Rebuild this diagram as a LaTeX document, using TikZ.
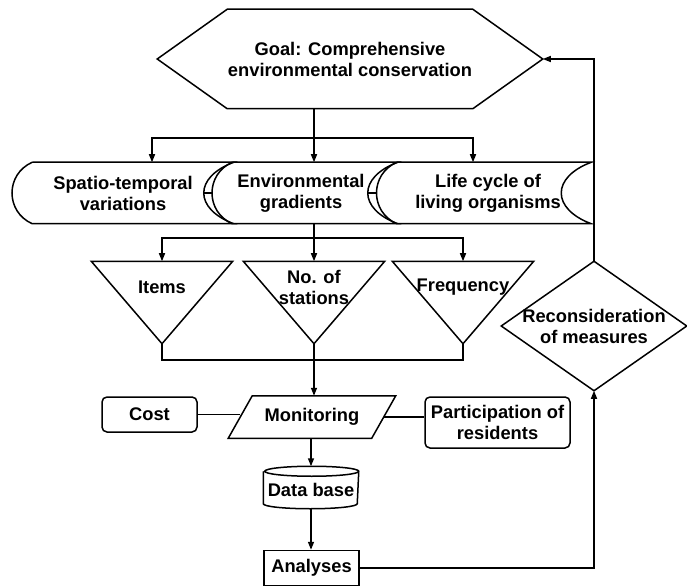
\documentclass[tikz,border=0pt]{standalone}
\usepackage{fontspec}
\setmainfont{Liberation Sans}
\usetikzlibrary{arrows.meta}

% stored-data outline round a node, shifted right by #2
\newcommand{\storedshape}[2]{%
  \draw ([xshift=#2]#1.north west) -- ([xshift=#2]#1.north east)
    .. controls +(-40,-15) and +(-40,15) .. ([xshift=#2]#1.south east)
    -- ([xshift=#2]#1.south west)
    .. controls +(-27,12) and +(-27,-12) .. ([xshift=#2]#1.north west);
}

\begin{document}
\begin{tikzpicture}[x=1pt,y=1pt,line width=1.5pt,
    txt/.style={inner sep=0pt,align=center,font=\fontsize{18.3}{21}\selectfont\bfseries},
    box/.style={txt,draw},
    roundbox/.style={box,rounded corners=5pt},
    tribox/.style={txt,minimum width=140,minimum height=50},
    rowbox/.style={txt,minimum height=60},
    arr/.style={-{Triangle[length=8pt,width=6pt]}}]
    \useasboundingbox (0,0) rectangle (687,587);

    % Goal
    \node[txt,minimum width=214,minimum height=98] (goal) at (350,528) {Goal: Comprehensive\\environmental conservation};
    \coordinate (goal-tip) at ([xshift=70]goal.east);
    \draw (goal.north west) -- (goal.north east) -- (goal-tip) -- (goal.south east)
        -- (goal.south west) -- ([xshift=-70]goal.west) -- cycle;

    % Row 1
    \node[rowbox,minimum width=200] (s1) at (123,394) {Spatio-temporal\\variations};
    \node[rowbox,minimum width=164] (s2) at (301,394) {Environmental\\gradients};
    \node[rowbox,minimum width=193] (s3) at (488,394) {Life cycle of\\living organisms};
    \storedshape{s1}{10}
    \storedshape{s2}{14}
    \storedshape{s3}{6}
    \draw ([xshift=-20]s1.east) -- ([xshift=-6]s2.west);
    \draw ([xshift=-16]s2.east) -- ([xshift=-14]s3.west);

    \coordinate (br1) at (314,449);
    \draw (goal.south -| br1) -- (br1);
    \draw[arr] (br1) -- (br1 |- s2.north);
    \draw[arr] (br1) -| ([xshift=29]s1.north);
    \draw[arr] (br1) -| ([xshift=-15]s3.north);

    % Row 2
    \node[tribox] (items) at (162,300) {Items};
    \node[tribox] (stat) at (314,300) {No. of\\stations};
    \node[tribox] (freq) at (463,300) {Frequency};
    \foreach \n in {items,stat,freq}{
        \coordinate (\n-tip) at ([yshift=-31]\n.south);
        \draw (\n.north west) -- (\n.north east) -- (\n-tip) -- cycle;
    }

    \coordinate (br2) at (314,349);
    \draw (s2.south -| br2) -- (br2);
    \draw[arr] (br2) -- (stat.north);
    \draw[arr] (br2) -| (items.north);
    \draw[arr] (br2) -| (freq.north);

    \coordinate (br3) at (314,227);
    \draw (items-tip) |- (br3) -| (freq-tip);
    \draw (stat-tip) -- (br3);

    % Monitoring
    \node[txt,minimum width=142,minimum height=41] (mon) at (312,170) {Monitoring};
    \draw ([xshift=12]mon.north west) -- ([xshift=12]mon.north east)
        -- ([xshift=-12]mon.south east) -- ([xshift=-12]mon.south west) -- cycle;
    \draw[arr] (br3) -- (br3 |- mon.north);

    \node[roundbox,minimum width=95,minimum height=35] (cost) at (149.5,172.5) {Cost};
    \node[roundbox,minimum width=145,minimum height=51] (part) at (497.5,164.5) {Participation of\\residents};
    \draw (cost.east) -- (cost.east -| mon.west);
    \draw (mon.east) -- (mon.east -| part.west);

    % Data base and analyses
    \node[txt,minimum width=94,minimum height=36] (db) at (311,97) {Data base};
    \draw (db.north west) -- ([yshift=5]db.south west)
        arc[start angle=180,end angle=360,x radius=47,y radius=5]
        -- (db.north east) arc[start angle=0,end angle=360,x radius=47,y radius=5];
    \draw[arr] (mon.south -| db.north) -- ([yshift=5]db.north);

    \node[box,minimum width=95,minimum height=35] (ana) at (311.5,19) {Analyses};
    \draw[arr] (db.south) -- (db.south |- ana.north);

    % Feedback
    \node[txt,minimum width=184,minimum height=128] (recon) at (594,261) {Reconsideration\\of measures};
    \draw (recon.north) -- (recon.east) -- (recon.south) -- (recon.west) -- cycle;
    \draw[arr] (ana.east) -| (recon.south);
    \draw[arr] (recon.north) |- (goal-tip);
\end{tikzpicture}
\end{document}
